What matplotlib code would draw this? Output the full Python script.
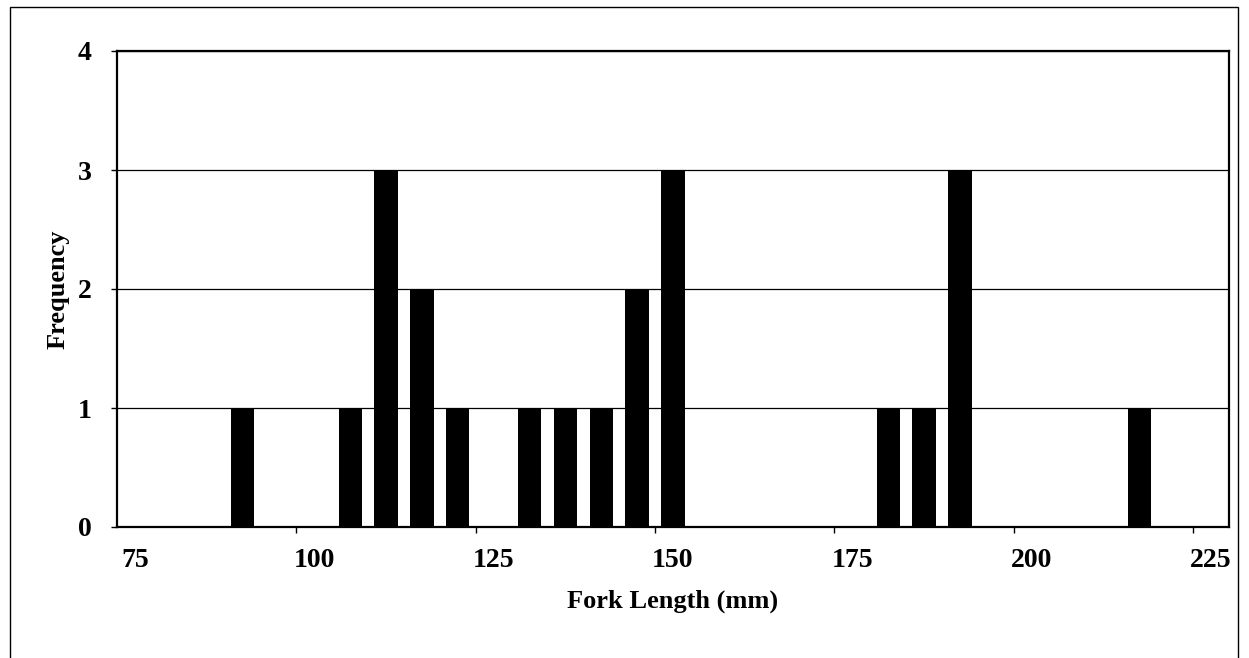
import matplotlib
matplotlib.use("Agg")
import matplotlib.pyplot as plt
import matplotlib.patches as patches

# fork length bins (mm) and counts
lengths = [90, 105, 110, 115, 120, 130, 135, 140, 145, 150, 180, 185, 190, 215]
counts  = [1, 1, 3, 2, 1, 1, 1, 1, 2, 3, 1, 1, 3, 1]
xtick_vals = [75, 100, 125, 150, 175, 200, 225]
ytick_vals = [0, 1, 2, 3, 4]

plt.rcParams["font.family"] = ["Liberation Serif", "DejaVu Serif"]
plt.rcParams["font.weight"] = "bold"

fig = plt.figure(figsize=(12.49, 6.58), dpi=100)
fig.patch.set_facecolor("white")

# outer frame round the whole chart
fig.patches.append(patches.Rectangle(
    (10 / 1249, -0.01), 1228 / 1249, 1 - 7 / 658 + 0.01,
    transform=fig.transFigure, fill=False, edgecolor="black", linewidth=1.0))

ax = fig.add_axes([117 / 1249, 1 - 527 / 658, (1229 - 117) / 1249, (527 - 51) / 658])

for y in ytick_vals[1:]:
    ax.axhline(y, color="black", linewidth=0.9, zorder=1)

ax.bar(lengths, counts, width=3.25, color="black", zorder=3)

ax.set_xlim(72.5, 227.5)
ax.set_ylim(0, 4)
ax.set_xticks(xtick_vals)
ax.set_xticks([97.5 + 25 * k for k in range(6)], minor=True)
ax.set_yticks(ytick_vals)
ax.tick_params(axis="x", which="major", length=0, pad=15, labelsize=20)
ax.tick_params(axis="x", which="minor", length=4, width=1, direction="out")
ax.tick_params(axis="y", length=4, width=1, pad=14, labelsize=20)

for s in ax.spines.values():
    s.set_linewidth(1.6)
    s.set_color("black")

ax.set_xlabel("Fork Length (mm)", fontsize=19, fontweight="bold", labelpad=12)
ax.set_ylabel("Frequency", fontsize=19, fontweight="bold", labelpad=6)

fig.savefig("out.png", dpi=100, facecolor="white")
